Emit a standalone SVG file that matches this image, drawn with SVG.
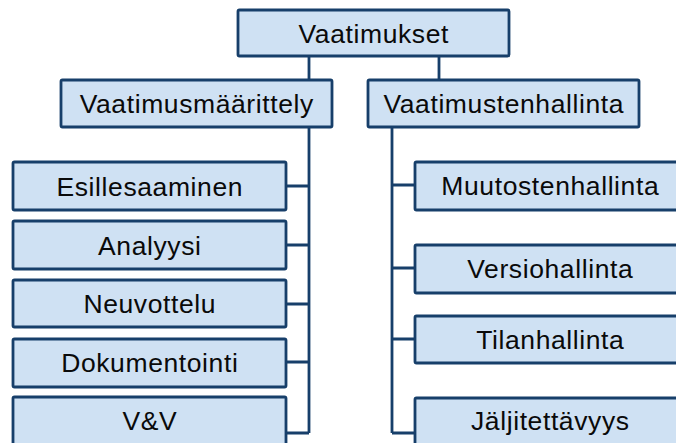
<svg xmlns="http://www.w3.org/2000/svg" width="676" height="443" viewBox="0 0 676 443">
  <style>
    .box { fill: #cfe1f3; stroke: #173f6a; stroke-width: 2.8; }
    .lbl { font-family: "Liberation Sans", Arial, sans-serif; font-size: 26.5px; letter-spacing: 0.6px; fill: #0a0a0a; text-anchor: middle; }
    .wire { fill: none; stroke: #173f6a; stroke-width: 2.8; }
  </style>
  <rect width="676" height="443" fill="#ffffff"/>

  <!-- connectors -->
  <g id="connectors">
    <path class="wire" d="M309 56 V80 M439 56 V80"/>
    <path class="wire" d="M309 127 V433 M286 186 H309 M286 245 H309 M286 304 H309 M286 362 H309 M286 433 H309"/>
    <path class="wire" d="M392 127 V433 M392 185 H415 M392 268 H415 M392 339 H415 M392 433 H415"/>
  </g>

  <!-- root -->
  <g id="vaatimukset">
    <rect class="box" x="238" y="10" width="271" height="46" rx="1.5"/>
    <text class="lbl" x="373.8" y="42.5">Vaatimukset</text>
  </g>

  <!-- second level -->
  <g id="vaatimusmaarittely">
    <rect class="box" x="61" y="80" width="271" height="47" rx="1.5"/>
    <text class="lbl" x="196.8" y="113">Vaatimusmäärittely</text>
  </g>
  <g id="vaatimustenhallinta">
    <rect class="box" x="368" y="80" width="271" height="47" rx="1.5"/>
    <text class="lbl" x="503.8" y="113">Vaatimustenhallinta</text>
  </g>

  <!-- left leaves -->
  <g id="esillesaaminen">
    <rect class="box" x="13" y="162" width="273" height="48" rx="1.5"/>
    <text class="lbl" x="149.8" y="195.5">Esillesaaminen</text>
  </g>
  <g id="analyysi">
    <rect class="box" x="13" y="221" width="273" height="48" rx="1.5"/>
    <text class="lbl" x="149.8" y="254.5">Analyysi</text>
  </g>
  <g id="neuvottelu">
    <rect class="box" x="13" y="280" width="273" height="47" rx="1.5"/>
    <text class="lbl" x="149.8" y="313">Neuvottelu</text>
  </g>
  <g id="dokumentointi">
    <rect class="box" x="13" y="339" width="273" height="48" rx="1.5"/>
    <text class="lbl" x="149.8" y="372">Dokumentointi</text>
  </g>
  <g id="vv">
    <rect class="box" x="13" y="397" width="273" height="48" rx="1.5"/>
    <text class="lbl" x="149.8" y="430">V&amp;V</text>
  </g>

  <!-- right leaves -->
  <g id="muutostenhallinta">
    <rect class="box" x="415" y="162" width="271" height="48" rx="1.5"/>
    <text class="lbl" x="550.3" y="195">Muutostenhallinta</text>
  </g>
  <g id="versiohallinta">
    <rect class="box" x="415" y="245" width="271" height="48" rx="1.5"/>
    <text class="lbl" x="550.3" y="278">Versiohallinta</text>
  </g>
  <g id="tilanhallinta">
    <rect class="box" x="415" y="316" width="271" height="47" rx="1.5"/>
    <text class="lbl" x="550.3" y="348.5">Tilanhallinta</text>
  </g>
  <g id="jaljitettavyys">
    <rect class="box" x="415" y="398" width="271" height="48" rx="1.5"/>
    <text class="lbl" x="550.3" y="430">Jäljitettävyys</text>
  </g>
</svg>
